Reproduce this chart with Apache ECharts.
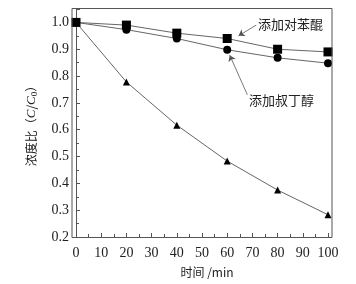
<!DOCTYPE html>
<html><head><meta charset="utf-8">
<script src="https://cdn.jsdelivr.net/npm/echarts@6/dist/echarts.min.js"></script>
<style>html,body{margin:0;padding:0;background:#fff}#c{width:356px;height:284px}</style>
</head><body><div id="c"></div>
<script>
var times = [0, 20, 40, 60, 80, 100];
var bqValues = [1.0, 0.99, 0.96, 0.94, 0.90, 0.89];      // 添加对苯醌
var tbaValues = [1.0, 0.973, 0.94, 0.898, 0.868, 0.848];  // 添加叔丁醇
var blankValues = [1.0, 0.778, 0.617, 0.483, 0.375, 0.283];
var labelBQ = '添加对苯醌';
var labelTBA = '添加叔丁醇';

function pairs(v){ return times.map(function(t,i){ return [t, v[i]]; }); }
var serif = 'Liberation Serif';
var cjk = 'Noto Sans CJK SC';
var lineStyle = {color:'#666', width:1};

var chart = echarts.init(document.getElementById('c'), null, {renderer:'canvas'});
chart.setOption({
  animation:false,
  backgroundColor:'#fff',
  grid:{left:76, right:28, top:9, bottom:47},
  xAxis:{type:'value', min:0, max:100, interval:10,
    axisLine:{show:false},
    axisTick:{inside:true, length:4, lineStyle:{color:'#555'}},
    minorTick:{show:true, splitNumber:2, length:3, lineStyle:{color:'#555'}},
    splitLine:{show:false},
    axisLabel:{color:'#222', fontFamily:serif, fontSize:14, margin:9},
    name:'时间 /min', nameLocation:'middle', nameGap:29,
    nameTextStyle:{color:'#222', fontFamily:cjk, fontSize:12, padding:[0,0,0,10]}
  },
  yAxis:{type:'value', min:0.2, max:1.05, interval:0.1, offset:4,
    axisLine:{show:true, lineStyle:{color:'#555'}},
    axisTick:{inside:true, length:4, lineStyle:{color:'#555'}},
    minorTick:{show:true, splitNumber:2, length:3, lineStyle:{color:'#555'}},
    splitLine:{show:false},
    axisLabel:{color:'#222', fontFamily:serif, fontSize:14, margin:3, showMaxLabel:false,
      formatter:function(v){ return v.toFixed(1); }},
    name:'浓度比（{i|C}/{i|C}{s|0}）', nameLocation:'middle', nameGap:33, nameRotate:90,
    nameTextStyle:{color:'#222', fontFamily:cjk, fontSize:12,
      rich:{i:{fontStyle:'italic', fontFamily:serif, fontSize:13, color:'#222'},
            s:{fontFamily:serif, fontSize:9, color:'#222', verticalAlign:'bottom', padding:[6,0,0,0]}}}
  },
  series:[
    {type:'line', data:pairs(bqValues), symbol:'rect', symbolSize:9, lineStyle:lineStyle,
      itemStyle:{color:'#000'}, z:3,
      markLine:{silent:true, symbol:['none','arrow'], symbolSize:6, label:{show:false},
        lineStyle:{color:'#555', width:0.8, type:'solid'},
        data:[[{coord:[71.5,0.99]},{coord:[64.5,0.95]}]]}
    },
    {type:'line', data:pairs(tbaValues), symbol:'circle', symbolSize:8, lineStyle:lineStyle,
      itemStyle:{color:'#000'}, z:3,
      markLine:{silent:true, symbol:['none','arrow'], symbolSize:6, label:{show:false},
        lineStyle:{color:'#555', width:0.8, type:'solid'},
        data:[[{coord:[68,0.73]},{coord:[61,0.878]}]]}
    },
    {type:'line', data:pairs(blankValues), symbol:'triangle', symbolSize:7, lineStyle:lineStyle,
      itemStyle:{color:'#000'}, z:3}
  ],
  graphic:[
    {type:'rect', shape:{x:72, y:8.5, width:260, height:229}, style:{fill:'none', stroke:'#555', lineWidth:1}, silent:true, z:10},
    {type:'text', left:258, top:18, style:{text:labelBQ, font:'13px "Noto Sans CJK SC"', fill:'#222'}, z:11},
    {type:'text', left:249, top:94, style:{text:labelTBA, font:'13px "Noto Sans CJK SC"', fill:'#222'}, z:11}
  ]
});
</script></body></html>
